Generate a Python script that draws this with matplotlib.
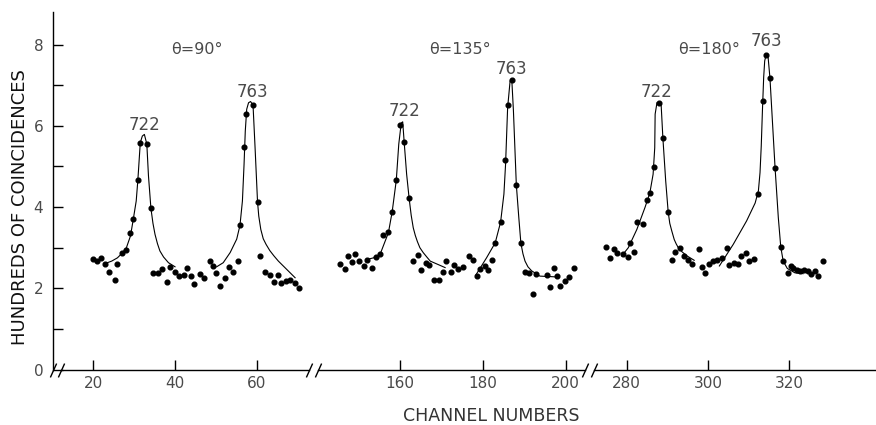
import matplotlib
matplotlib.use("Agg")
import matplotlib.pyplot as plt

plt.rcParams["font.family"] = ["DejaVu Sans"]

# ---- values: channel number vs hundreds of coincidences ----
ch_90 = [19.8, 20.9, 21.9, 22.9, 23.9, 25.2, 25.9, 27.0, 28.1, 29.1, 29.7, 30.9, 31.5,
         33.1, 34.1, 34.7, 35.8, 36.7, 38.0, 38.8, 40.0, 40.9, 42.1, 43.0, 43.9, 44.7,
         46.0, 47.1, 48.6, 49.2, 50.1, 51.0, 52.3, 53.2, 54.3, 55.4, 55.9, 56.9, 57.4,
         59.1, 60.2, 60.8, 62.0, 63.3, 64.2, 65.1, 65.9, 67.1, 68.2, 69.4, 70.3]
cnt_90 = [2.71, 2.67, 2.75, 2.61, 2.40, 2.20, 2.61, 2.86, 2.94, 3.35, 3.71, 4.66, 5.59,
          5.55, 3.97, 2.38, 2.37, 2.47, 2.16, 2.52, 2.41, 2.30, 2.32, 2.51, 2.30, 2.10,
          2.36, 2.26, 2.67, 2.55, 2.38, 2.06, 2.26, 2.52, 2.40, 2.66, 3.55, 5.49, 6.29,
          6.51, 4.13, 2.80, 2.41, 2.32, 2.16, 2.33, 2.13, 2.18, 2.20, 2.12, 2.00]

ch_135 = [145.5, 146.6, 147.5, 148.5, 149.2, 150.2, 151.3, 152.1, 153.2, 154.1, 155.2,
          155.8, 157.1, 158.1, 159.1, 160.0, 161.0, 162.2, 163.2, 164.4, 165.1, 166.2,
          167.0, 168.1, 169.5, 170.3, 171.1, 172.3, 173.0, 173.9, 175.1, 176.6, 177.6,
          178.6, 179.4, 180.5, 181.3, 182.3, 183.0, 184.3, 185.4, 186.0, 187.0, 188.1,
          189.2, 190.1, 191.2, 192.1, 192.9, 195.6, 196.3, 197.1, 198.0, 198.6, 199.8,
          200.8, 202.0]
cnt_135 = [2.61, 2.48, 2.80, 2.65, 2.84, 2.67, 2.55, 2.70, 2.51, 2.78, 2.85,
           3.31, 3.39, 3.88, 4.66, 6.01, 5.61, 4.22, 2.67, 2.83, 2.44, 2.62,
           2.57, 2.20, 2.20, 2.41, 2.67, 2.41, 2.57, 2.48, 2.52, 2.80, 2.70,
           2.30, 2.47, 2.56, 2.45, 2.70, 3.12, 3.63, 5.16, 6.51, 7.12, 4.55,
           3.11, 2.40, 2.37, 1.85, 2.34, 2.33, 2.03, 2.49, 2.30, 2.05, 2.18,
           2.28, 2.51]

ch_180 = [274.9, 275.8, 276.9, 277.6, 279.1, 280.3, 280.9, 281.9, 282.5, 284.1, 284.9,
          285.7, 286.8, 288.0, 288.9, 290.2, 291.2, 291.9, 293.2, 294.0, 295.2, 296.1,
          297.7, 298.5, 299.3, 300.3, 301.3, 302.3, 303.4, 304.6, 305.2, 306.5, 307.5,
          308.0, 309.3, 310.1, 311.3, 312.4, 313.5, 314.3, 315.3, 316.5, 317.9, 318.4,
          319.6, 320.3, 321.0, 321.8, 322.7, 323.6, 324.5, 325.3, 326.3, 327.0, 328.4]
cnt_180 = [3.02, 2.75, 2.97, 2.86, 2.84, 2.77, 3.11, 2.90, 3.64, 3.58, 4.17,
           4.35, 4.99, 6.57, 5.71, 3.89, 2.69, 2.90, 3.00, 2.80, 2.69, 2.61,
           2.96, 2.53, 2.37, 2.61, 2.67, 2.70, 2.75, 3.00, 2.57, 2.62, 2.59,
           2.79, 2.88, 2.66, 2.71, 4.32, 6.61, 7.75, 7.17, 4.97, 3.02, 2.66,
           2.38, 2.55, 2.49, 2.45, 2.43, 2.44, 2.43, 2.35, 2.43, 2.30, 2.66]

# hand-drawn fitted curves, traced point by point
fit_90_722_ch = [22.9, 24.5, 25.9, 27.0, 28.1, 29.1, 29.8, 30.5, 30.9, 31.5, 32.0, 32.5,
                 33.1, 33.5, 34.1, 34.6, 35.1, 35.7, 36.3, 37.2, 38.4, 40.0]
fit_90_722 = [2.61, 2.67, 2.75, 2.86, 3.00, 3.29, 3.71, 4.15, 4.66, 5.59, 5.75, 5.79,
              5.55, 4.77, 3.97, 3.60, 3.33, 3.10, 2.92, 2.77, 2.63, 2.53]
fit_90_763_ch = [50.2, 51.8, 53.5, 55.1, 55.9, 56.5, 56.9, 57.2, 57.55, 58.0, 58.5, 59.1,
                 59.6, 60.2, 60.5, 61.0, 61.6, 62.3, 63.2, 64.2, 65.3, 66.7, 68.2, 69.4]
fit_90_763 = [2.53, 2.63, 2.88, 3.21, 3.55, 4.15, 5.05, 5.87, 6.41, 6.57, 6.60, 6.51,
              5.46, 4.13, 3.78, 3.45, 3.22, 3.08, 2.93, 2.80, 2.67, 2.53, 2.38, 2.26]

fit_135_722_ch = [152.0, 153.6, 155.2, 157.2, 158.1, 159.1, 159.7, 160.3, 160.65, 161.0,
                  161.6, 162.2, 162.7, 163.2, 163.7, 164.2, 164.8, 165.6, 166.4, 167.3,
                  170.9]
fit_135_722 = [2.71, 2.75, 2.84, 3.37, 3.88, 4.66, 5.55, 6.07, 6.10, 5.61,
               4.81, 4.22, 3.80, 3.49, 3.30, 3.15, 3.00, 2.88, 2.78, 2.67,
               2.51]
fit_135_763_ch = [178.4, 180.9, 183.0, 184.3, 185.1, 185.5, 186.0, 186.6, 187.0, 187.4,
                  188.1, 188.7, 189.2, 189.7, 190.2, 190.9, 191.8, 193.8, 197.9]
fit_135_763 = [2.34, 2.75, 3.12, 3.63, 4.32, 5.05, 6.45, 7.11, 7.15, 6.37,
               4.55, 3.74, 3.11, 2.85, 2.67, 2.53, 2.43, 2.30, 2.28]

fit_180_722_ch = [278.8, 280.4, 282.5, 284.5, 285.7, 286.5, 286.9, 287.0, 287.45, 288.45,
                  288.9, 289.6, 290.2, 290.6, 291.1, 291.7, 292.2, 292.7, 293.6, 294.8,
                  296.6]
fit_180_722 = [2.80, 3.00, 3.45, 3.99, 4.35, 4.81, 5.46, 6.29, 6.57, 6.57,
               5.71, 4.64, 3.89, 3.60, 3.41, 3.20, 3.09, 3.00, 2.90, 2.80,
               2.69]
fit_180_763_ch = [302.8, 306.2, 309.5, 311.6, 312.4, 312.8, 313.1, 313.4, 313.7, 313.95,
                  314.3, 314.8, 315.25, 316.5, 317.3, 317.9, 318.5, 319.5, 321.4, 323.4]
fit_180_763 = [2.55, 3.08, 3.66, 4.10, 4.40, 4.85, 5.50, 6.40, 7.20, 7.60,
               7.75, 7.68, 7.17, 4.97, 3.74, 3.02, 2.67, 2.49, 2.38, 2.36]

angle_labels = ["θ=90°", "θ=135°", "θ=180°"]
x_ticks = [[20, 40, 60], [160, 180, 200], [280, 300, 320]]
y_ticks = list(range(0, 9))
y_ticklabels = ["0", "", "2", "", "4", "", "6", "", "8"]

# ---- layout (pixels of the 876x425 figure) ----
W, H = 876, 425
AX_BOTTOM, AX_TOP = 369.5, 12.2
panels = [
    # left px, right px, xlim, label positions (data coords)
    dict(left=53, right=309, xlim=(10.13, 72.80),
         theta=(45.4, 7.89), p722=(32.46, 6.02), p763=(58.85, 6.84)),
    dict(left=318.5, right=585, xlim=(140.31, 204.69),
         theta=(174.5, 7.89), p722=(160.97, 6.37), p763=(186.98, 7.39)),
    dict(left=594, right=876, xlim=(271.96, 341.33),
         theta=(300.3, 7.89), p722=(287.45, 6.83), p763=(314.27, 8.09)),
]
points = [(ch_90, cnt_90), (ch_135, cnt_135), (ch_180, cnt_180)]
fits = [[(fit_90_722_ch, fit_90_722), (fit_90_763_ch, fit_90_763)],
        [(fit_135_722_ch, fit_135_722), (fit_135_763_ch, fit_135_763)],
        [(fit_180_722_ch, fit_180_722), (fit_180_763_ch, fit_180_763)]]

fig = plt.figure(figsize=(W / 100, H / 100), dpi=100)
light = "#4a4a4a"

slash = dict(marker=[(-0.45, -1), (0.45, 1)], markersize=10, linestyle="none",
             color="k", mec="k", mew=1.0, clip_on=False)

for i, p in enumerate(panels):
    ax = fig.add_axes([p["left"] / W, (H - AX_BOTTOM) / H,
                       (p["right"] - p["left"]) / W, (AX_BOTTOM - AX_TOP) / H])
    ax.patch.set_alpha(0)
    ax.set_xlim(*p["xlim"])
    ax.set_ylim(0, 8.8)
    for s in ("top", "right"):
        ax.spines[s].set_visible(False)
    ax.spines["bottom"].set_linewidth(1.0)
    ax.set_xticks(x_ticks[i])
    ax.tick_params(axis="x", direction="in", length=7, width=1, labelsize=11,
                   pad=4.5, labelcolor=light)

    for fx, fy in fits[i]:
        ax.plot(fx, fy, color="k", lw=0.8, solid_joinstyle="round")
    px, py = points[i]
    ax.plot(px, py, "o", color="k", markersize=3.4, linestyle="none")

    ax.text(*p["theta"], angle_labels[i], ha="center", va="center",
            fontsize=11.5, color=light)
    ax.text(*p["p722"], "722", ha="center", va="center", fontsize=12, color=light)
    ax.text(*p["p763"], "763", ha="center", va="center", fontsize=12, color=light)

    # break marks on the x axis
    xt = ax.get_xaxis_transform()
    if i == 0:
        ax.spines["left"].set_linewidth(1.0)
        ax.set_yticks(y_ticks)
        ax.set_yticklabels(y_ticklabels)
        ax.tick_params(axis="y", direction="in", length=7, width=1, labelsize=11,
                       pad=7, labelcolor=light)
        ax.spines["bottom"].set_bounds(12.1, p["xlim"][1])
        ax.plot([p["xlim"][0], 12.1], [0, 0], transform=xt, **slash)
    else:
        ax.spines["left"].set_visible(False)
        ax.tick_params(axis="y", left=False, labelleft=False)
        ax.plot([p["xlim"][0]], [0], transform=xt, **slash)
    if i < 2:
        ax.plot([p["xlim"][1]], [0], transform=xt, **slash)

fig.text(20 / W, (H - 207.5) / H, "HUNDREDS OF COINCIDENCES", rotation=90,
         ha="center", va="center", fontsize=13, color="#111")
fig.text(491 / W, (H - 416) / H, "CHANNEL NUMBERS", ha="center", va="center",
         fontsize=12.5, color="#333")

fig.savefig("out.png", dpi=100)
